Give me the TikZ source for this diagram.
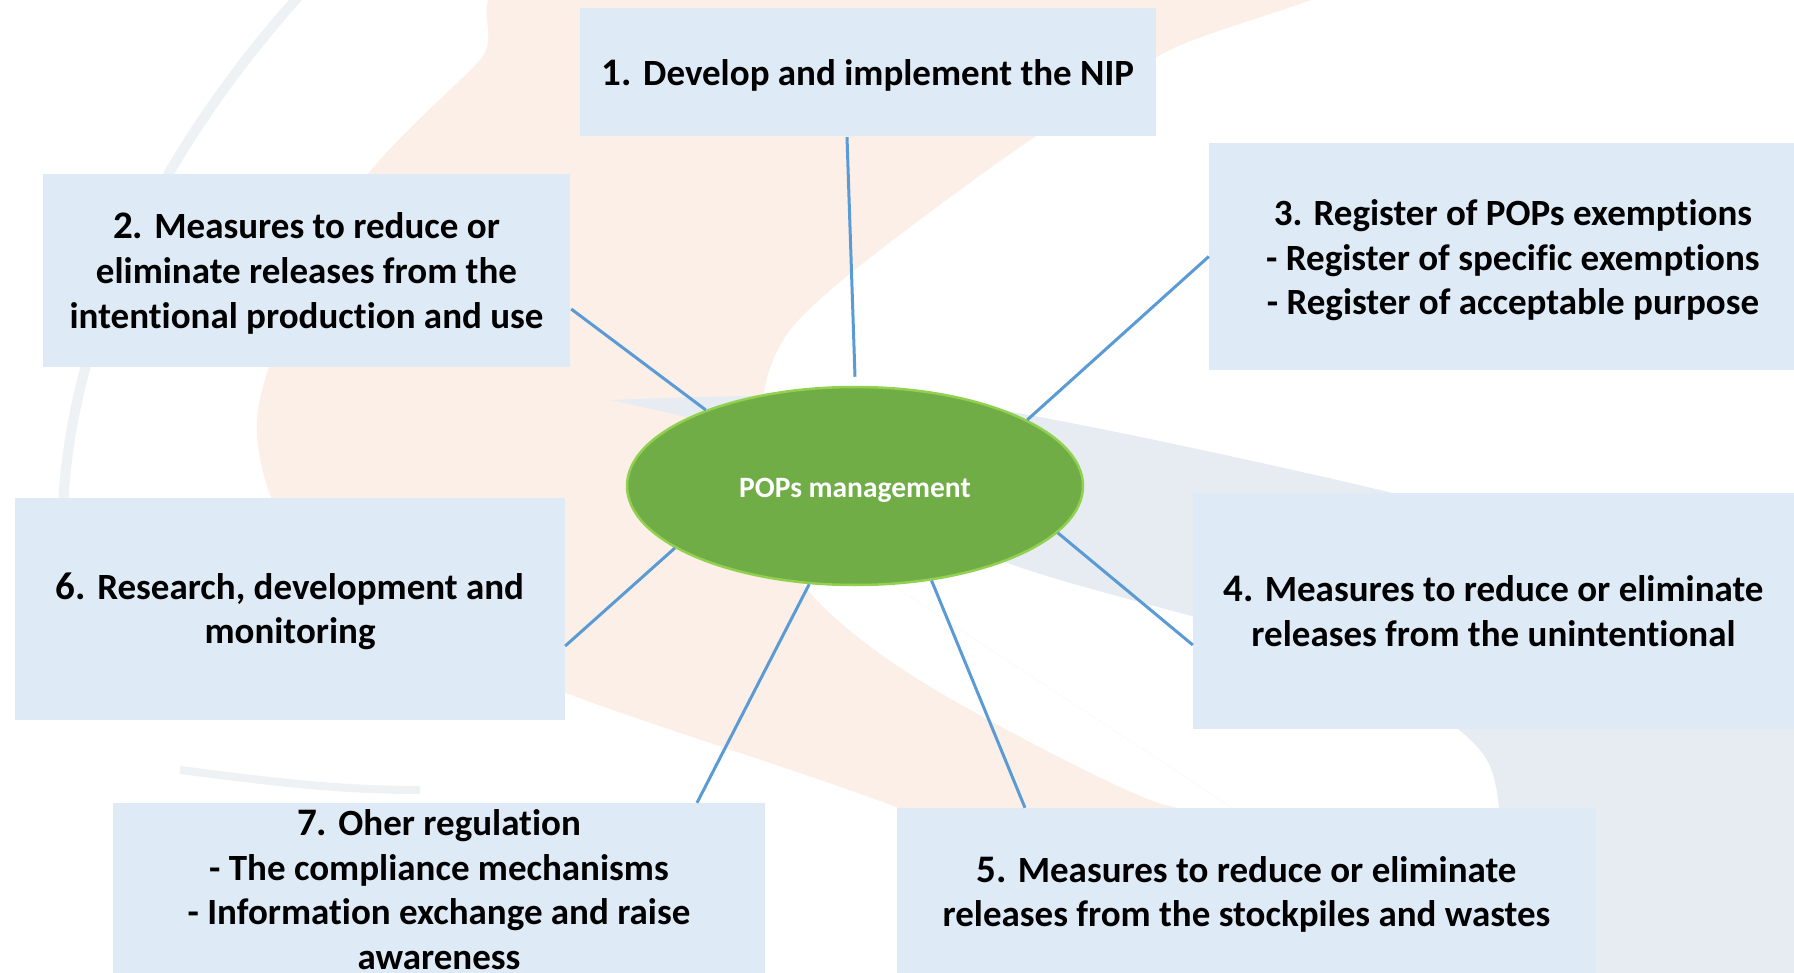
\documentclass[tikz,border=0pt]{standalone}
\usepackage{fontspec}
\setmainfont{Carlito}[Ligatures=NoCommon]
\usetikzlibrary{shapes.geometric,calc}
\definecolor{boxblue}{HTML}{DEEAF6}
\definecolor{linkblue}{HTML}{5B9BD5}
\definecolor{ellfill}{HTML}{70AD47}
\definecolor{ellline}{HTML}{92D050}
\definecolor{peach}{HTML}{FCEFE7}
\definecolor{swoosh}{HTML}{E6ECF2}
\definecolor{faintgray}{HTML}{EEF2F5}
\tikzset{
  itembox/.style={fill=boxblue, draw=none, inner sep=0pt},
  boxtext/.style={inner sep=0pt, align=center,
    font=\fontsize{37}{44.6}\selectfont\bfseries},
  hub/.style={ellipse, fill=ellfill, draw=ellline, line width=2.5pt, inner sep=0pt,
    minimum width=456pt, minimum height=198pt},
  hubtext/.style={inner sep=0pt, text=white,
    font=\fontsize{29.5}{34}\selectfont\bfseries},
  link/.style={draw=linkblue, line width=3pt}
}
\newcommand{\num}[1]{{\fontsize{39}{44.6}\selectfont #1}}
\begin{document}
\begin{tikzpicture}[x=1pt,y=-1pt]
\useasboundingbox (0,0) rectangle (1794,973);
\clip (0,0) rectangle (1794,973);
\fill[white] (0,0) rectangle (1794,973);
% faint watermark
\fill[peach] plot[smooth cycle, tension=0.5] coordinates {
  (560,-30) (1330,-30) (1160,55) (960,190) (790,330) (760,450) (800,580)
  (919,680) (1150,800) (1300,830) (1100,900) (896,807) (566,693) (330,590)
  (257,420) (349,200) (480,60)};
\fill[swoosh] plot[smooth, tension=0.5] coordinates {
  (610,400) (800,396) (1000,410) (1380,490) (1800,600)}
  -- (1800,980) -- (1495,980)
  plot[smooth, tension=0.5] coordinates {(1495,980) (1487,760) (1300,650) (1000,560) (800,450) (610,400)};
\draw[faintgray, line width=10pt] (300,-5) .. controls (160,150) and (30,380) .. (70,620);
\draw[faintgray, line width=8pt] (180,770) .. controls (260,780) and (330,790) .. (420,790);
% hub
\node[hub] (e) at (855,486) {};
\node[hubtext] (et) at ($(e.center)+(0,4.5)$) {POPs management};
% boxes
\node[itembox, minimum width=576pt, minimum height=128pt] (b1) at (868,72) {};
\node[boxtext] (t1) at ($(b1.center)+(0,3.5)$) {\num{1.} Develop and implement the NIP};
\node[itembox, minimum width=527pt, minimum height=193pt] (b2) at (306.5,270.5) {};
\node[boxtext] (t2) at ($(b2.center)+(0,3)$)
  {\num{2.} Measures to reduce or\\eliminate releases from the\\intentional production and use};
\node[itembox, minimum width=608pt, minimum height=227pt] (b3) at (1513,256.5) {};
\node[boxtext] (t3) at ($(b3.center)+(0,4)$)
  {3. Register of POPs exemptions\\- Register of specific exemptions\\- Register of acceptable purpose};
\node[itembox, minimum width=601pt, minimum height=236pt] (b4) at (1493.5,611) {};
\node[boxtext] (t4) at ($(b4.center)+(0,0)$)
  {\num{4.} Measures to reduce or eliminate\\releases from the unintentional};
\node[itembox, minimum width=699pt, minimum height=168pt] (b5) at (1246.5,892) {};
\node[boxtext] (t5) at ($(b5.center)+(0,2.5)$)
  {\num{5.} Measures to reduce or eliminate\\releases from the stockpiles and wastes};
\node[itembox, minimum width=550pt, minimum height=222pt] (b6) at (290,609) {};
\node[boxtext] (t6) at ($(b6.center)+(0,2.5)$)
  {\num{6.} Research, development and\\monitoring};
\node[itembox, minimum width=652pt, minimum height=173pt] (b7) at (439,889.5) {};
\node[boxtext] (t7) at ($(b7.center)+(0,0)$)
  {\num{7.} Oher regulation\\- The compliance mechanisms\\- Information exchange and raise\\awareness};
% connectors
\draw[link] ($(b1.south)+(-21,1)$) -- ($(e.north)+(0,-9)$);
\draw[link] ($(b2.east)+(1,38.5)$) -- (e.153.6);
\draw[link] (b3.west) -- (e.21.3);
\draw[link] (e.-13.5) -- ($(b4.west)+(0,34)$);
\draw[link] (e.-51.4) -- ($(b5.north)+(-221.5,0)$);
\draw[link] (e.199.9) -- ($(b6.east)+(0,37)$);
\draw[link] (e.245.1) -- ($(b7.north)+(258,0)$);
\end{tikzpicture}
\end{document}
